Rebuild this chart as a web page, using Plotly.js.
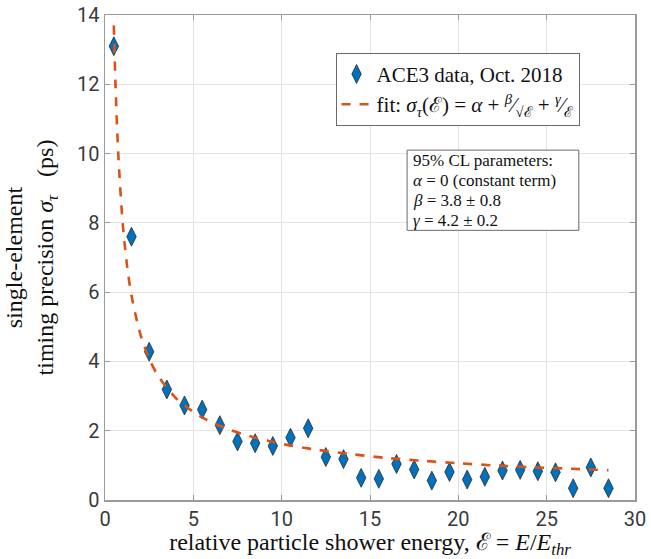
<!DOCTYPE html>
<html>
<head>
<meta charset="utf-8">
<script src="https://cdn.plot.ly/plotly-3.0.1.min.js"></script>
<style>html,body{margin:0;padding:0;background:#fff}#chart{width:651px;height:559px}</style>
</head>
<body>
<div id="chart"></div>
<script>
// Measured data (ACE3, Oct. 2018)
var energy = [0.5, 1.5, 2.5, 3.5, 4.5, 5.5, 6.5, 7.5, 8.5, 9.5, 10.5, 11.5, 12.5, 13.5, 14.5, 15.5, 16.5, 17.5, 18.5, 19.5, 20.5, 21.5, 22.5, 23.5, 24.5, 25.5, 26.5, 27.5, 28.5];
var sigma = [13.1, 7.6, 4.28, 3.19, 2.73, 2.61, 2.16, 1.69, 1.64, 1.56, 1.80, 2.07, 1.24, 1.18, 0.64, 0.61, 1.04, 0.88, 0.56, 0.81, 0.59, 0.67, 0.85, 0.87, 0.83, 0.80, 0.34, 0.94, 0.34];

// Fit curve
var fitE = [0.5, 0.6, 0.75, 1, 1.25, 1.5, 2, 2.5, 3, 4, 5, 6, 7, 8, 10, 12, 14, 16, 18, 20, 22, 24, 26, 28.5];
var fitSigma = [13.7, 11.9, 10.0, 8.0, 6.76, 5.9, 4.79, 4.08, 3.59, 2.95, 2.54, 2.25, 2.04, 1.87, 1.62, 1.45, 1.32, 1.21, 1.13, 1.06, 1.00, 0.95, 0.91, 0.86];

var xTicks = [0, 5, 10, 15, 20, 25, 30];
var yTicks = [0, 2, 4, 6, 8, 10, 12, 14];

var paramLines = [
  "95% CL parameters:",
  "<i>α</i> = 0 (constant term)",
  "<i>β</i> = 3.8 ± 0.8",
  "<i>γ</i> = 4.2 ± 0.2"
];

var serif = "Liberation Serif, Times New Roman, serif";
var sans = "Roboto, Arial, sans-serif";
var axisCol = "#9a9a9a";

var traces = [
  {
    x: energy, y: sigma, type: "scatter", mode: "markers",
    name: "ACE3 data, Oct. 2018",
    marker: {symbol: "diamond-tall", size: 13.5, color: "#0072BD", line: {color: "#2b2b2b", width: 0.8}}
  },
  {
    x: fitE, y: fitSigma, type: "scatter", mode: "lines",
    name: "fit: <i>σ</i><sub><i>τ</i></sub>(ℰ) = <i>α</i> + <sup><i>β</i></sup>⁄<sub>√ℰ</sub> + <sup><i>γ</i></sup>⁄<sub>ℰ</sub>",
    line: {color: "#D95319", width: 2.6, dash: "dash", shape: "spline", smoothing: 0.8}
  }
];

var axisCommon = {
  showline: true, linecolor: axisCol, linewidth: 1.5, mirror: "ticks",
  ticks: "inside", ticklen: 5, tickcolor: axisCol, tickwidth: 1,
  showgrid: true, gridcolor: "#e4e4e4", gridwidth: 1, zeroline: false,
  tickfont: {family: sans, size: 20, color: "#3a3a3a"}
};

// parameter box: top/bottom in paper units, lines spaced evenly
var boxTop = 0.7214, boxBottom = 0.556, lineStep = 0.0413, firstLine = 0.7005;
var annos = paramLines.map(function (t, i) {
  return {
    xref: "paper", yref: "paper", x: 0.578, y: firstLine - i * lineStep,
    xanchor: "left", yanchor: "middle", align: "left", showarrow: false,
    text: t, font: {family: serif, size: 17, color: "#111"}
  };
});

var layout = {
  width: 651, height: 559,
  margin: {l: 105, r: 16, t: 15, b: 59},
  paper_bgcolor: "#fff", plot_bgcolor: "#fff",
  showlegend: true,
  legend: {
    x: 0.435, y: 0.922, xanchor: "left", yanchor: "top",
    bgcolor: "#fff", bordercolor: "#6a6a6a", borderwidth: 1,
    font: {family: serif, size: 21, color: "#111"},
    itemwidth: 30, tracegroupgap: 0
  },
  xaxis: Object.assign({}, axisCommon, {
    range: [0, 30], tickvals: xTicks, ticktext: xTicks.map(String),
    title: {text: "relative particle shower energy, ℰ = <i>E</i>/<i>E</i><sub><i>thr</i></sub>", font: {family: serif, size: 24, color: "#111"}, standoff: 4}
  }),
  yaxis: Object.assign({}, axisCommon, {
    range: [0, 14], tickvals: yTicks, ticktext: yTicks.map(String),
    title: {text: "single-element<br>timing precision <i>σ</i><sub><i>τ</i></sub>   (ps)", font: {family: serif, size: 24, color: "#111"}, standoff: 16}
  }),
  shapes: [{
    type: "rect", xref: "paper", yref: "paper",
    x0: 0.570, x1: 0.894, y0: boxBottom, y1: boxTop,
    line: {color: "#6a6a6a", width: 1}, fillcolor: "#fff", layer: "above"
  }],
  annotations: annos
};

Plotly.newPlot("chart", traces, layout, {displayModeBar: false, staticPlot: true});
</script>
</body>
</html>
